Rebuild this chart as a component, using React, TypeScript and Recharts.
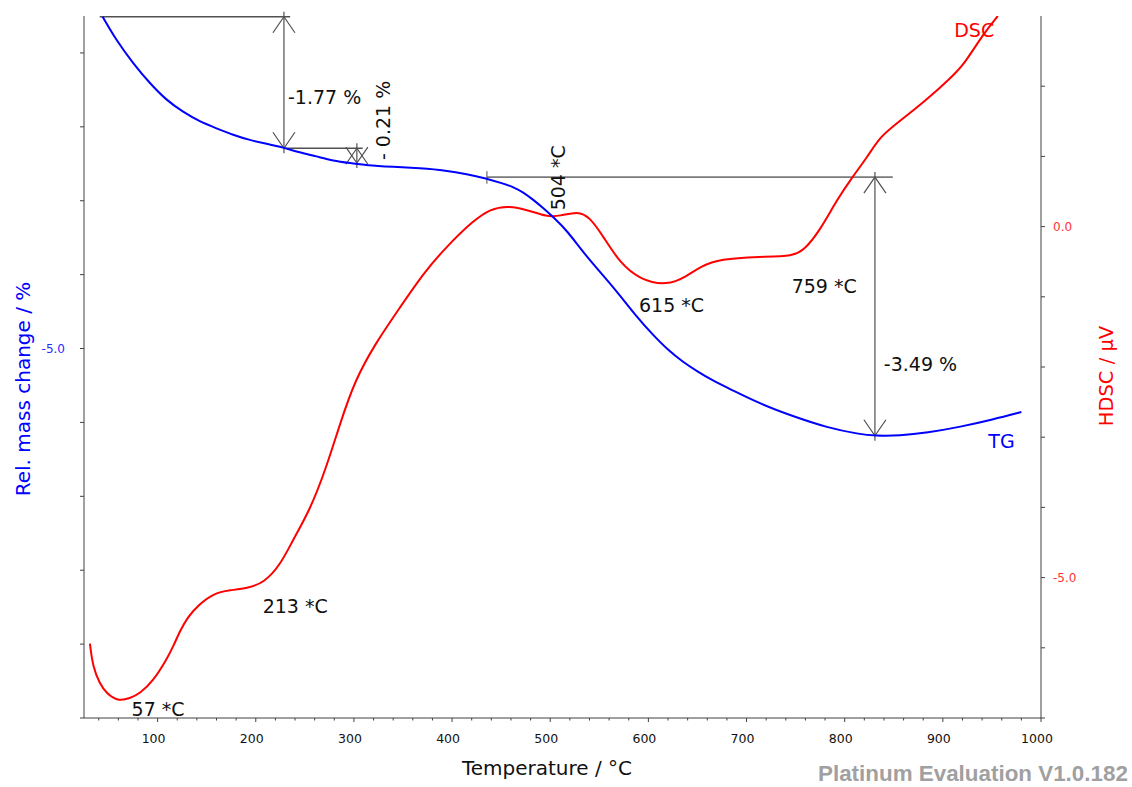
import React from "react";
import {
  LineChart,
  Line,
  XAxis,
  YAxis,
  ReferenceLine,
  ReferenceDot,
} from "recharts";

// TG curve (left axis, rel. mass change in %)
const tgTemperature = [
  44, 58, 75, 92, 109, 126, 143, 160, 177, 194, 211, 228, 243, 262, 279, 296,
  313, 340, 367, 394, 415, 435, 450, 462, 473, 483, 493, 503, 517, 537, 564,
  588, 605, 620, 635, 650, 665, 685, 714, 748, 782, 815, 831, 856, 884, 918,
  951, 980,
];
const tgMassChange = [
  -0.51, -0.83, -1.14, -1.41, -1.64, -1.8, -1.93, -2.02, -2.11, -2.18, -2.23,
  -2.28, -2.34, -2.4, -2.46, -2.49, -2.52, -2.54, -2.56, -2.59, -2.64, -2.7,
  -2.76, -2.81, -2.89, -2.99, -3.1, -3.22, -3.4, -3.76, -4.16, -4.57, -4.82,
  -5.02, -5.18, -5.31, -5.43, -5.56, -5.75, -5.92, -6.07, -6.16, -6.18, -6.18,
  -6.14, -6.06, -5.96, -5.86,
];

// DSC curve (right axis, µV)
const dscTemperature = [
  31, 34, 41, 48, 59, 72, 82, 95, 109, 116, 123, 131, 140, 157, 174, 191, 208,
  225, 238, 255, 271, 286, 301, 322, 347, 371, 394, 422, 439, 457, 479, 496,
  510, 528, 540, 554, 571, 592, 619, 639, 653, 673, 714, 748, 759, 775, 792,
  808, 823, 836, 853, 883, 909, 922, 941, 956,
];
const dscSignal = [
  -5.94, -6.27, -6.51, -6.65, -6.76, -6.72, -6.65, -6.48, -6.17, -5.98, -5.75,
  -5.56, -5.41, -5.22, -5.18, -5.15, -5.08, -4.82, -4.46, -4.04, -3.47, -2.8,
  -2.19, -1.66, -1.15, -0.66, -0.29, 0.09, 0.25, 0.3, 0.23, 0.14, 0.15, 0.22,
  0.14, -0.14, -0.52, -0.76, -0.84, -0.71, -0.57, -0.46, -0.43, -0.42, -0.33,
  -0.05, 0.38, 0.71, 0.99, 1.28, 1.47, 1.8, 2.13, 2.32, 2.74, 3.0,
];

const tempLabels = [100, 200, 300, 400, 500, 600, 700, 800, 900, 1000];
const tempTicks = Array.from({ length: 49 }, (_, i) => 40 + i * 20);
const massTicks = [-10, -9, -8, -7, -6, -5, -4, -3, -2, -1];
const massLabels = [-5];
const dscTicks = [-7, -6, -5, -4, -3, -2, -1, 0, 1, 2];
const dscLabels = [0, -5];

// evaluation marks, in chart units (temperature, mass change)
const stepTemp = [228.7, 303, 830.8];
const stepFrom = [-0.51, -2.29, -2.68];
const stepTo = [-2.29, -2.49, -6.18];

const guides = [
  { t1: 41, t2: 235, m: -0.51, color: "#505050", w: 1.3 },
  { t1: 228.7, t2: 309, m: -2.29, color: "#505050", w: 1.3 },
  { t1: 435.5, t2: 849, m: -2.68, color: "#7a7a7a", w: 1.8 },
];

const notes = [
  { text: "-1.77 %", t: 232.8, m: -1.69, rot: 0 },
  { text: "- 0.21 %", t: 336.6, m: -2.45, rot: -90 },
  { text: "504 *C", t: 515, m: -3.13, rot: -90 },
  { text: "615 *C", t: 590.4, m: -4.51, rot: 0 },
  { text: "759 *C", t: 746, m: -4.245, rot: 0 },
  { text: "-3.49 %", t: 839.9, m: -5.31, rot: 0 },
  { text: "213 *C", t: 207, m: -8.575, rot: 0 },
  { text: "57 *C", t: 73.5, m: -9.97, rot: 0 },
];

const tgData = tgTemperature.map((t, i) => ({ t, v: tgMassChange[i] }));
const dscData = dscTemperature.map((t, i) => ({ t, v: dscSignal[i] }));

function TempTick(props: any) {
  const { x, y, payload } = props;
  const major = tempLabels.includes(payload.value);
  return (
    <g>
      <line x1={x} y1={y} x2={x} y2={y + (major ? 4 : 2.5)} stroke="#404040" />
      {major && (
        <text x={x - 4} y={y + 25} textAnchor="middle" fontSize={12.5} fill="#111">
          {payload.value}
        </text>
      )}
    </g>
  );
}

// vertical dimension line with open arrow heads at both ends
function Dimension(props: any) {
  const { x1, y1, y2 } = props;
  const top = Math.min(y1, y2);
  const bot = Math.max(y1, y2);
  return (
    <g stroke="#505050" strokeWidth={1.2} fill="none">
      <line x1={x1} y1={top - 5} x2={x1} y2={bot + 5} />
      <polyline points={`${x1 - 11},${top + 16} ${x1},${top} ${x1 + 11},${top + 16}`} />
      <polyline points={`${x1 - 11},${bot - 16} ${x1},${bot} ${x1 + 11},${bot - 16}`} />
    </g>
  );
}

export default function App() {
  return (
    <div
      style={{
        position: "absolute",
        left: 0,
        top: 0,
        width: 1132,
        height: 787,
        background: "#fff",
        fontFamily: "'DejaVu Sans', sans-serif",
      }}
    >
      <LineChart width={1132} height={787} margin={{ top: 16, right: 0, bottom: 0, left: 0 }}>
        <XAxis
          dataKey="t"
          type="number"
          domain={[25, 1000]}
          ticks={tempTicks}
          interval={0}
          allowDataOverflow
          height={69}
          tickSize={0}
          tickMargin={0}
          tickLine={false}
          axisLine={{ stroke: "#404040" }}
          tick={(p: any) => <TempTick {...p} />}
        />
        <YAxis
          yAxisId="left"
          orientation="left"
          width={84}
          domain={[-10, -0.5]}
          ticks={massTicks}
          interval={0}
          allowDataOverflow
          tickSize={4}
          tickMargin={15}
          tickFormatter={(v: number) => (massLabels.includes(v) ? v.toFixed(1) : "")}
          tick={{ fontSize: 12, fill: "#2a2aff" }}
          tickLine={{ stroke: "#404040" }}
          axisLine={{ stroke: "#404040" }}
        />
        <YAxis
          yAxisId="right"
          orientation="right"
          width={91}
          domain={[-7, 3]}
          ticks={dscTicks}
          interval={0}
          allowDataOverflow
          tickSize={4}
          tickMargin={8}
          tickFormatter={(v: number) => (dscLabels.includes(v) ? v.toFixed(1) : "")}
          tick={{ fontSize: 12, fill: "#ff3333" }}
          tickLine={{ stroke: "#404040" }}
          axisLine={{ stroke: "#404040" }}
        />

        {guides.map((g, i) => (
          <ReferenceLine
            key={"g" + i}
            yAxisId="left"
            segment={[
              { x: g.t1, y: g.m },
              { x: g.t2, y: g.m },
            ]}
            stroke={g.color}
            strokeWidth={g.w}
            ifOverflow="visible"
          />
        ))}
        {stepTemp.map((t, i) => (
          <ReferenceLine
            key={"s" + i}
            yAxisId="left"
            segment={[
              { x: t, y: stepFrom[i] },
              { x: t, y: stepTo[i] },
            ]}
            ifOverflow="visible"
            shape={(p: any) => <Dimension {...p} />}
          />
        ))}
        <ReferenceLine
          yAxisId="left"
          segment={[
            { x: 435.5, y: -2.6 },
            { x: 435.5, y: -2.77 },
          ]}
          stroke="#505050"
          ifOverflow="visible"
        />

        <Line
          yAxisId="right"
          data={dscData}
          dataKey="v"
          type="basis"
          stroke="#ff0000"
          strokeWidth={2}
          dot={false}
          isAnimationActive={false}
        />
        <Line
          yAxisId="left"
          data={tgData}
          dataKey="v"
          type="basis"
          stroke="#0000ff"
          strokeWidth={2}
          dot={false}
          isAnimationActive={false}
        />

        {notes.map((n, i) => (
          <ReferenceDot
            key={"n" + i}
            yAxisId="left"
            x={n.t}
            y={n.m}
            r={0}
            ifOverflow="visible"
            shape={(p: any) => (
              <text
                x={p.cx}
                y={p.cy}
                fontSize={19}
                fill="#111"
                transform={n.rot ? `rotate(${n.rot} ${p.cx} ${p.cy})` : undefined}
              >
                {n.text}
              </text>
            )}
          />
        ))}
        <ReferenceDot
          yAxisId="left"
          x={946.3}
          y={-6.34}
          r={0}
          ifOverflow="visible"
          shape={(p: any) => (
            <text x={p.cx} y={p.cy} fontSize={19} fill="#0000ff">
              TG
            </text>
          )}
        />
        <ReferenceDot
          yAxisId="left"
          x={911.6}
          y={-0.78}
          r={0}
          ifOverflow="visible"
          shape={(p: any) => (
            <text x={p.cx} y={p.cy} fontSize={19} fill="#ff0000">
              DSC
            </text>
          )}
        />
      </LineChart>

      <svg
        width={1132}
        height={787}
        style={{ position: "absolute", left: 0, top: 0, pointerEvents: "none" }}
      >
        <text x={547} y={775} textAnchor="middle" fontSize={20} fill="#111">
          Temperature / °C
        </text>
        <text
          transform="translate(30 389) rotate(-90)"
          textAnchor="middle"
          fontSize={20}
          fill="#0000ff"
        >
          Rel. mass change / %
        </text>
        <text
          transform="translate(1113 376) rotate(-90)"
          textAnchor="middle"
          fontSize={19.5}
          fill="#ff0000"
        >
          HDSC / µV
        </text>
        <text
          x={818}
          y={781}
          fontSize={22.4}
          fontWeight="bold"
          fontFamily="'Liberation Sans', Arial, sans-serif"
          fill="#a0a0a0"
        >
          Platinum Evaluation V1.0.182
        </text>
      </svg>
    </div>
  );
}
